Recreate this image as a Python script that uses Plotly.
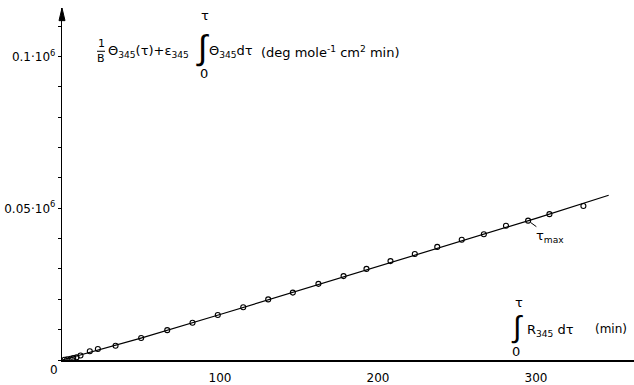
import plotly.graph_objects as go

# ---- data ----
x_vals = [1.6, 3.3, 5.4, 7.1, 9.2, 11.7, 17.6, 22.7, 33.9, 50.1, 66.6, 82.6, 98.6,
          114.7, 130.5, 146.1, 162.3, 178.2, 192.7, 207.9, 223.3, 237.5, 253.0,
          267.0, 281.0, 295.0, 308.5, 330.0]
y_vals = [100, 220, 420, 640, 870, 1500, 2885, 3620, 4710, 7275, 9840, 12275, 14840,
          17400, 19970, 22210, 25100, 27660, 30030, 32600, 34940, 37275, 39650,
          41440, 44230, 45930, 48080, 50740]
line_x = [0, 50, 100, 150, 200, 250, 300, 346]
line_y = [0, 7200, 15000, 22900, 30800, 38700, 46700, 54300]
x_tick_vals = [100, 200, 300]
x_tick_text = ["100", "200", "300"]
y_tick_vals = [50000, 100000]
y_tick_text = ["0.05·10<sup>6</sup>", "0.1·10<sup>6</sup>"]
tau_max_x, tau_max_y = 295.0, 45930

W, H = 634, 385
L, R, T, B = 62, 0, 8, 15
PW, PH = W - L - R, H - T - B
FONT = "DejaVu Sans"
IFONT = "Liberation Sans"


def px(xp, yp):
    """window pixel -> paper coords"""
    return (xp - L) / PW, (T + PH - yp) / PH


fig = go.Figure()
fig.add_trace(go.Scatter(x=line_x, y=line_y, mode="lines",
                         line=dict(color="black", width=1.2), hoverinfo="skip"))
fig.add_trace(go.Scatter(x=x_vals, y=y_vals, mode="markers",
                         marker=dict(symbol="circle-open", size=5,
                                     color="black", line=dict(width=1.1))))

ann = []


def text(xp, yp, s, size=13, xanchor="center", family=FONT):
    xx, yy = px(xp, yp)
    ann.append(dict(x=xx, y=yy, xref="paper", yref="paper", text=s, showarrow=False,
                    font=dict(family=family, size=size, color="black"),
                    xanchor=xanchor, yanchor="middle"))


# y-axis title (top)
text(101, 45, "1", 11)
text(101, 60, "B", 11)
text(106, 53, "Θ<sub>345</sub>(τ)+ε<sub>345</sub>", 13, "left")
text(202, 49, "∫", 34, family=IFONT)
text(205, 16, "τ", 13)
text(204, 75, "0", 13)
text(207, 53, "Θ<sub>345</sub>dτ", 13, "left")
text(259, 53, "(deg mole<sup>-1</sup> cm<sup>2</sup> min)", 13, "left")

# x-axis title
text(517, 336, "∫", 30, family=IFONT)
text(519, 311, "τ", 13)
text(516, 361, "0", 13)
text(525, 340, "R<sub>345</sub> dτ", 13, "left")
text(593, 338, "(min)", 12, "left")

# origin label
text(54, 380, "0", 12)

# tau_max label
ann.append(dict(x=tau_max_x, y=tau_max_y, xref="x", yref="y",
                text="τ<sub>max</sub>", showarrow=True, arrowhead=0,
                arrowwidth=1, arrowcolor="black", ax=22, ay=16, standoff=3,
                font=dict(family=FONT, size=13, color="black")))

# divider bar for 1/B and arrowhead on the y axis
bx0, by = px(97, 52.5)
bx1, _ = px(105, 52.5)
ax_l, ay_b = px(59, 21)
ax_c, ay_t = px(62, 8)
ax_r, _ = px(65, 21)

fig.update_layout(
    width=W, height=H,
    margin=dict(l=L, r=R, t=T, b=B),
    paper_bgcolor="white", plot_bgcolor="white",
    showlegend=False,
    annotations=ann,
    shapes=[
        dict(type="line", xref="paper", yref="paper", x0=bx0, x1=bx1, y0=by, y1=by,
             line=dict(color="black", width=1)),
        dict(type="path", xref="paper", yref="paper",
             path=f"M {ax_l} {ay_b} L {ax_c} {ay_t} L {ax_r} {ay_b} Z",
             fillcolor="black", line=dict(color="black", width=1)),
    ],
    xaxis=dict(range=[0, PW / 1.58], showgrid=False, zeroline=False,
               showline=True, linecolor="black", linewidth=1.5,
               tickvals=x_tick_vals, ticktext=x_tick_text, ticks="",
               ticklabelstandoff=6,
               tickfont=dict(family=FONT, size=12, color="black")),
    yaxis=dict(range=[0, PH / 31.2 * 10000], showgrid=False, zeroline=False,
               showline=True, linecolor="black", linewidth=1.4,
               tickvals=y_tick_vals, ticktext=y_tick_text, ticks="outside",
               ticklen=3, tickcolor="black", ticklabelstandoff=0,
               minor=dict(dtick=10000, tick0=0, ticks="outside", ticklen=3,
                          tickcolor="black"),
               tickfont=dict(family=FONT, size=12, color="black")),
)

fig.write_html(
    "out.html",
    config={"displayModeBar": False},
    post_script="document.body.style.margin='0';document.body.style.overflow='hidden';",
)
